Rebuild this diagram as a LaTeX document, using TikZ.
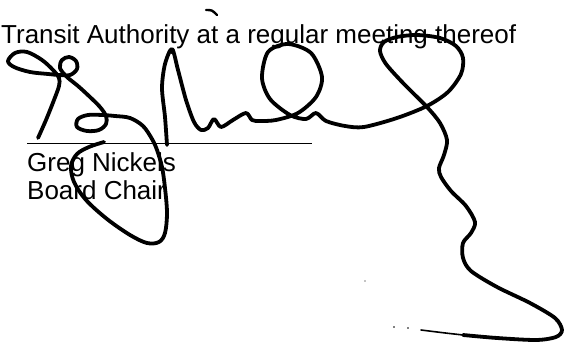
\documentclass[tikz,border=0pt]{standalone}
\usepackage{fontspec}
\setmainfont{Liberation Sans}

\begin{document}
\begin{tikzpicture}[
  x=1pt, y=-1pt,
  txt/.style={anchor=base west, inner sep=0pt, font=\fontsize{26}{30}\selectfont}, % printed text
  ink/.style={line width=3.8pt, line cap=round, line join=round},
  thinink/.style={line width=1.6pt, line cap=round},
  rule/.style={line width=1pt}
]
  \useasboundingbox (0,0) rectangle (566,344);

  \node [txt] (head)  at (1,44)   {Transit Authority at a regular meeting thereof};
  \node [txt] (name)  at (27,172) {Greg Nickels};
  \node [txt] (title) at (27,200) {Board Chair};
  \draw [rule] (27,143.5) -- (312,143.5);

  % signature, first stroke
  \draw [ink] plot [smooth, tension=0.55] coordinates {
    (38,138) (46,120) (54,100) (59,86) (59,78) (53,70) (42,60) (27,52) (15,53) (8,61)
    (14,67) (30,72) (48,74) (59,75) (70,75) (77,69) (76,61) (69,57) (62,60) (60,68)
    (67,77) (78,86) (90,97) (100,107) (106,116) (106,124) (99,130) (87,131) (77,127)
    (78,119) (88,115) (102,115) (115,116) (130,118) (143,126) (152,139) (157,150)
    (162,167) (165,188) (167,213) (165,233) (159,242) (147,243) (130,235) (107,219)
    (86,200) (74,182) (71,166) (77,154) (89,147) (104,142)};

  % signature, second stroke
  \draw [ink] plot [smooth, tension=0.5] coordinates {
    (167,145) (165,117) (162,88) (165,64) (172,49) (178,70) (186,100) (194,122)
    (201,130) (208,128) (214,119) (221,127) (233,120) (246,113) (252,120) (260,121)
    (276,120) (298,113) (316,97) (322,77) (311,53) (288,44) (268,52) (262,78)
    (270,99) (290,115) (306,119) (316,113) (326,121) (345,126) (364,127) (397,118)
    (427,106) (448,92) (461,74) (463,58) (456,46) (440,38) (417,35) (397,37)
    (384,42) (380,51) (386,64) (404,84) (427,107) (440,123) (447,140) (444,155)
    (439,168) (441,177) (451,191) (466,206) (475,222) (471,233) (463,243) (463,258)
    (471,271) (497,287) (530,303) (555,318) (562,330) (556,337) (536,340) (497,338)
    (463,335)};
  \fill (172,51) circle (3);
  \draw [thinink] (463,335) .. controls (445,333) .. (421,330);

  % specks
  \draw [thinink, line width=2.4pt] (206,10) .. controls (212,10) .. (217,15);
  \fill (408,328) circle (0.9);
  \fill (394,327) circle (0.9);
  \fill (365,281) circle (0.7);
\end{tikzpicture}
\end{document}
